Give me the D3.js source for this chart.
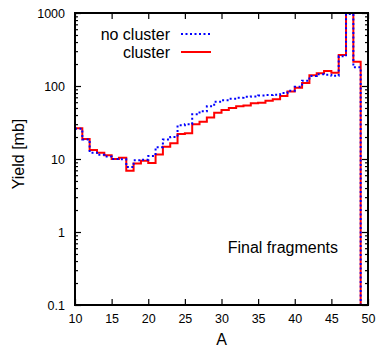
<!DOCTYPE html>
<html>
<head>
<meta charset="utf-8">
<script src="https://cdn.jsdelivr.net/npm/d3@7"></script>
<style>
  body { margin: 0; background: #fff; }
  svg { display: block; font-family: "Liberation Sans", Arial, sans-serif; }
</style>
</head>
<body>
<div id="chart"></div>
<script>
// mass number bins (left edge of each step)
const massNumbers = [10, 11, 12, 13, 14, 15, 16, 17, 18, 19,
                     20, 21, 22, 23, 24, 25, 26, 27, 28, 29,
                     30, 31, 32, 33, 34, 35, 36, 37, 38, 39,
                     40, 41, 42, 43, 44, 45, 46, 47, 48, 49];

// yield [mb], 0 means the histogram drops off the bottom
const yieldNoCluster = [26, 18.5, 12.2, 11.4, 10.8, 10.0, 9.9, 7.8, 9.6, 9.8,
                        11, 14.5, 18.5, 20, 29, 30, 41, 45, 53, 61,
                        64, 67, 69, 71, 72, 74, 75, 76, 80, 86,
                        98, 118, 137, 145, 143, 138, 255, 970, 180, 0];

const yieldCluster = [26.4, 18.8, 13.3, 12.2, 11.3, 10.0, 10.4, 6.9, 8.7, 9.5,
                      8.8, 11.5, 14.7, 16.4, 22, 22.5, 30, 32.4, 37, 43,
                      47, 50, 53, 54, 58, 59, 63, 66, 73, 84,
                      95, 110, 140, 150, 161, 152, 266, 1500, 215, 0];

const xTicks = [10, 15, 20, 25, 30, 35, 40, 45, 50];
const yTicks = [0.1, 1, 10, 100, 1000];
const yTickLabels = ['0.1', '1', '10', '100', '1000'];

const width = 377, height = 348;
const plotLeft = 75, plotRight = 368, plotTop = 13, plotBottom = 305;

const svg = d3.select('#chart').append('svg')
    .attr('width', width)
    .attr('height', height);

const x = d3.scaleLinear().domain([10, 50]).range([plotLeft, plotRight]);
const y = d3.scaleLog().domain([0.1, 1000]).range([plotBottom, plotTop]);

svg.append('defs').append('clipPath')
    .attr('id', 'plot-clip')
    .append('rect')
    .attr('x', plotLeft).attr('y', plotTop)
    .attr('width', plotRight - plotLeft).attr('height', plotBottom - plotTop);

// minor log ticks
const minorTicks = [];
yTicks.slice(0, -1).forEach(d => {
    for (let k = 2; k <= 9; k++) minorTicks.push(d * k);
});

function styleAxis(g) {
    g.select('.domain').remove();
    g.selectAll('line').attr('stroke', '#000').attr('stroke-width', 1.2);
    g.selectAll('text').attr('fill', '#000').attr('font-size', '12.5px');
}

svg.append('g')
    .attr('transform', `translate(0,${plotBottom})`)
    .call(d3.axisBottom(x).tickValues(xTicks).tickSize(-6).tickPadding(9).tickFormat(d3.format('d')))
    .call(styleAxis);

svg.append('g')
    .attr('transform', `translate(0,${plotTop})`)
    .call(d3.axisTop(x).tickValues(xTicks).tickSize(-6).tickFormat(''))
    .call(styleAxis);

svg.append('g')
    .attr('transform', `translate(${plotLeft},0)`)
    .call(d3.axisLeft(y).tickValues(yTicks).tickSize(-6).tickPadding(10)
        .tickFormat((d, i) => yTickLabels[i]))
    .call(styleAxis);

svg.append('g')
    .attr('transform', `translate(${plotLeft},0)`)
    .call(d3.axisLeft(y).tickValues(minorTicks).tickSize(-3).tickFormat(''))
    .call(styleAxis);

svg.append('g')
    .attr('transform', `translate(${plotRight},0)`)
    .call(d3.axisRight(y).tickValues(yTicks).tickSize(-6).tickFormat(''))
    .call(styleAxis);

svg.append('g')
    .attr('transform', `translate(${plotRight},0)`)
    .call(d3.axisRight(y).tickValues(minorTicks).tickSize(-3).tickFormat(''))
    .call(styleAxis);

// step lines
const line = d3.line()
    .x(d => x(d[0]))
    .y(d => d[1] > 0 ? y(d[1]) : plotBottom + 20)
    .curve(d3.curveStepAfter);

const plot = svg.append('g').attr('clip-path', 'url(#plot-clip)');

plot.append('path')
    .datum(d3.zip(massNumbers, yieldCluster))
    .attr('d', line)
    .attr('fill', 'none')
    .attr('stroke', '#ff0000')
    .attr('stroke-width', 2);

plot.append('path')
    .datum(d3.zip(massNumbers, yieldNoCluster))
    .attr('d', line)
    .attr('fill', 'none')
    .attr('stroke', '#0000ff')
    .attr('stroke-width', 2)
    .attr('stroke-dasharray', '2,2.5');

// frame
svg.append('rect')
    .attr('x', plotLeft).attr('y', plotTop)
    .attr('width', plotRight - plotLeft).attr('height', plotBottom - plotTop)
    .attr('fill', 'none')
    .attr('stroke', '#000')
    .attr('stroke-width', 2);

// legend
const legend = [
    { label: 'no cluster', color: '#0000ff', dash: '2,2.5', ly: 34 },
    { label: 'cluster', color: '#ff0000', dash: null, ly: 52 }
];
legend.forEach(d => {
    svg.append('text')
        .attr('x', 170).attr('y', d.ly)
        .attr('dy', '0.35em')
        .attr('text-anchor', 'end')
        .attr('font-size', '16px')
        .text(d.label);
    svg.append('line')
        .attr('x1', 181).attr('x2', 211)
        .attr('y1', d.ly).attr('y2', d.ly)
        .attr('stroke', d.color)
        .attr('stroke-width', 2)
        .attr('stroke-dasharray', d.dash);
});

svg.append('text')
    .attr('x', 338).attr('y', 253)
    .attr('text-anchor', 'end')
    .attr('font-size', '16px')
    .text('Final fragments');

// axis titles
svg.append('text')
    .attr('x', (plotLeft + plotRight) / 2).attr('y', 345)
    .attr('text-anchor', 'middle')
    .attr('font-size', '16px')
    .text('A');

svg.append('text')
    .attr('transform', 'translate(24,154) rotate(-90)')
    .attr('text-anchor', 'middle')
    .attr('font-size', '16px')
    .text('Yield [mb]');
</script>
</body>
</html>
